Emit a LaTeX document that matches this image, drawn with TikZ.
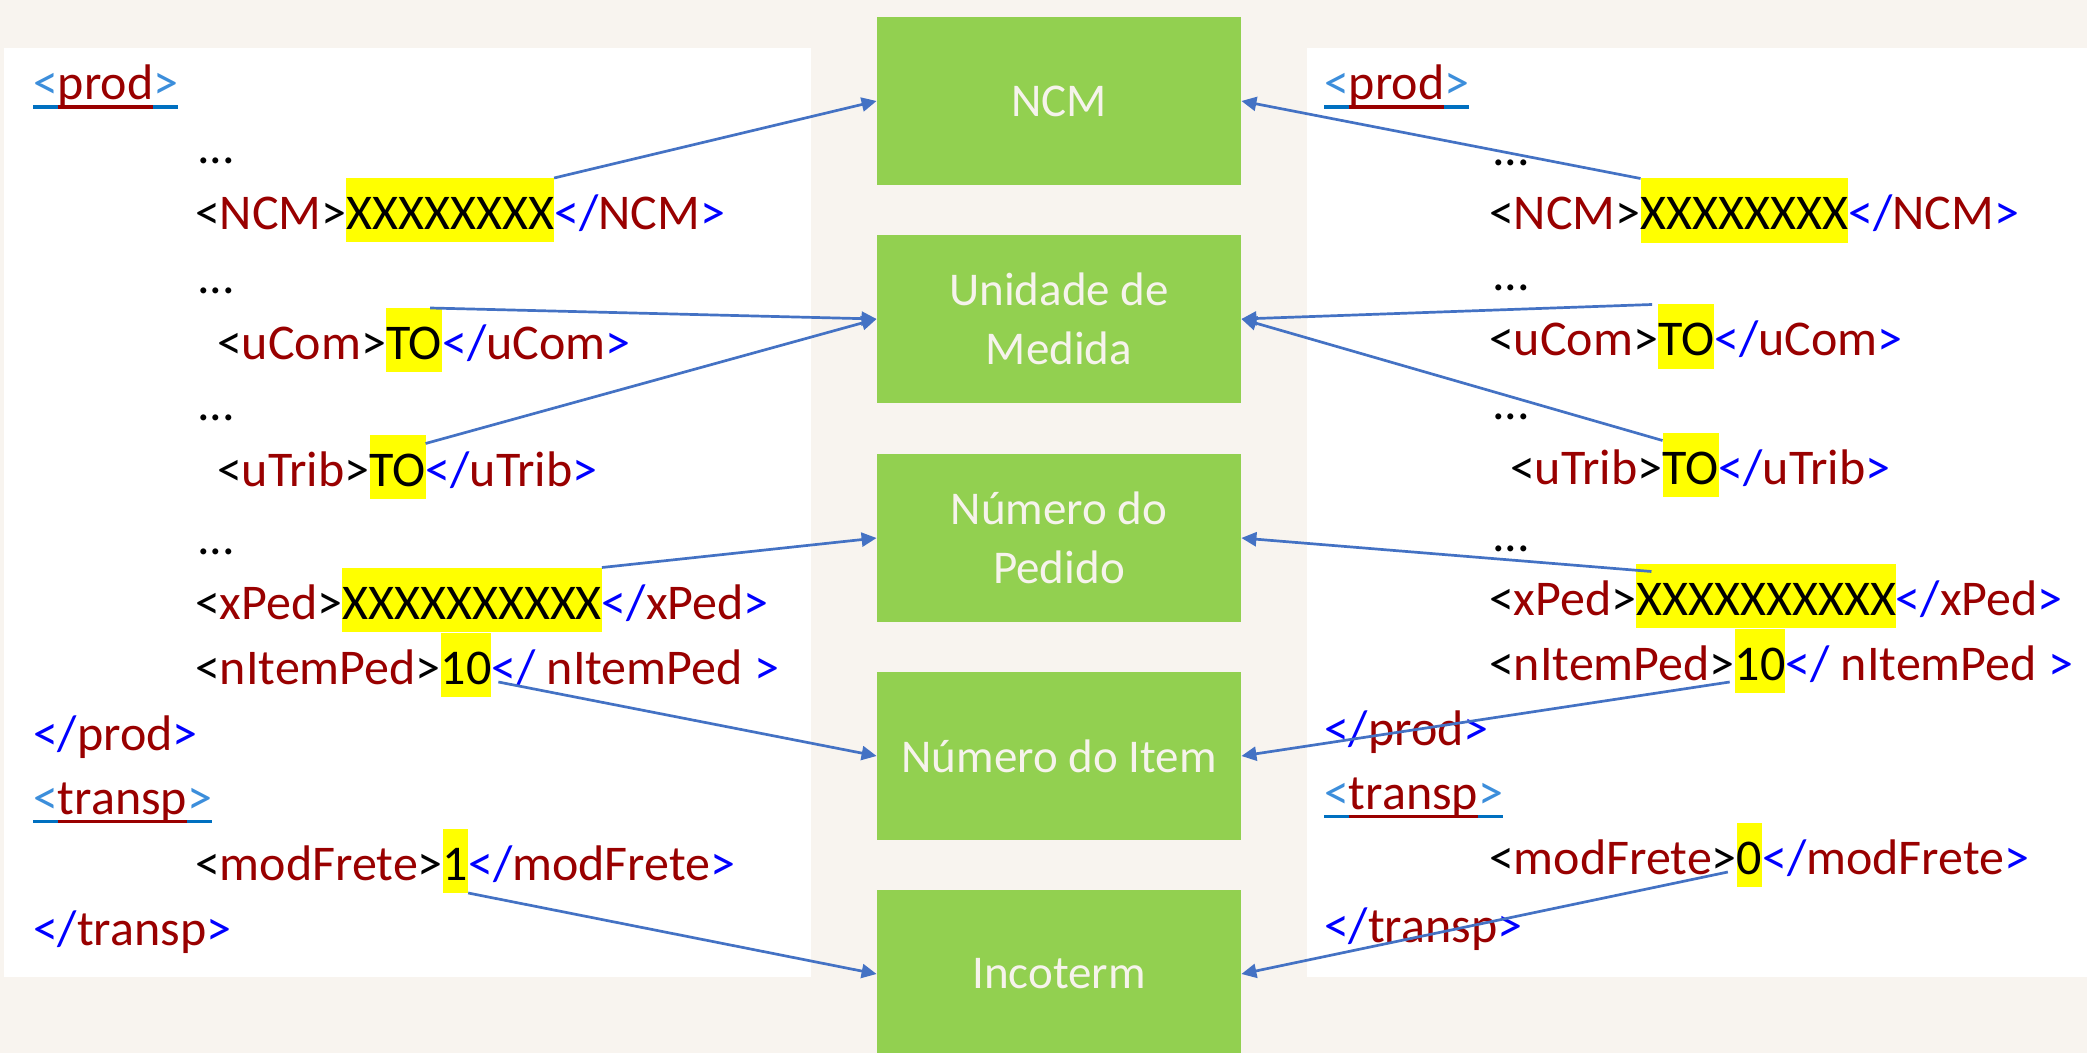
\documentclass[tikz,border=0pt]{standalone}
\usepackage{fontspec}
\usetikzlibrary{arrows.meta}
\newfontfamily\xmlfont{Carlito}
\newfontfamily\boxfont{Carlito}
\definecolor{bgc}{HTML}{F8F4EF}
\definecolor{dred}{HTML}{990000}
\definecolor{cblue}{HTML}{0000FF}
\definecolor{lblue}{HTML}{3C8EDB}
\definecolor{ulblue}{HTML}{0070C0}
\definecolor{hly}{HTML}{FFFF00}
\definecolor{boxgreen}{HTML}{92D050}
\definecolor{boxtext}{HTML}{F6F3EC}
\definecolor{arrblue}{HTML}{4472C4}
\newcommand\dr[1]{\textcolor{dred}{#1}}
\newcommand\bl[1]{\textcolor{cblue}{#1}}
\newsavebox\ulbox
\newcommand\ulpart[3]{\sbox\ulbox{\textcolor{#2}{#3}}\rlap{\textcolor{#1}{\rule[-4.6pt]{\wd\ulbox}{1.75pt}}}\usebox\ulbox}
\newcommand\ultag[1]{\ulpart{ulblue}{lblue}{<}\ulpart{dred}{dred}{#1}\ulpart{ulblue}{lblue}{>}}
\tikzset{
  txt/.style={anchor=base west, inner sep=0pt, outer sep=0pt, text height=25.75pt, text depth=6.5pt, font={\xmlfont\fontsize{25}{30}\selectfont}},
  val/.style={txt, fill=hly},
  box/.style={fill=boxgreen, minimum width=182pt, minimum height=84pt, inner sep=0pt, text=boxtext, align=center, font={\boxfont\fontsize{23.5}{29.5}\selectfont}},
  arr/.style={draw=arrblue, line width=1.35pt, -{Triangle[length=7.5pt,width=7pt]}}
}
\begin{document}
\begin{tikzpicture}[x=0.5pt,y=-0.5pt]
\useasboundingbox (0,0) rectangle (2087,1053);
\clip (0,0) rectangle (2087,1053);
\fill[bgc] (0,0) rectangle (2087,1053);
\fill[white] (4,48) rectangle (811,977);
\fill[white] (1307,48) rectangle (2087,977);

% central boxes
\node[box] (ncm) at (1059,101) {NCM};
\node[box] (unid) at (1059,319) {Unidade de\\Medida};
\node[box] (ped) at (1059,538) {Número do\\Pedido};
\node[box] (item) at (1059,756) {Número do Item};
\node[box] (inco) at (1059,974) {Incoterm};

% left XML
\node[txt] (Lprod) at (33,99.5) {\ultag{prod}};
\node[txt] (Ld1) at (197,164) {...};
\node[txt] (LncmA) at (195,229.5) {<\dr{NCM}>};
\node[val] (LncmV) at (LncmA.base east) {XXXXXXXX};
\node[txt] (LncmB) at (LncmV.base east) {\bl{</}\dr{NCM}\bl{>}};
\node[txt] (Ld2) at (197,294) {...};
\node[txt] (LucomA) at (217,359.5) {<\dr{uCom}>};
\node[val] (LucomV) at (LucomA.base east) {TO};
\node[txt] (LucomB) at (LucomV.base east) {\bl{</}\dr{uCom}\bl{>}};
\node[txt] (Ld3) at (197,421) {...};
\node[txt] (LutribA) at (217,486) {<\dr{uTrib}>};
\node[val] (LutribV) at (LutribA.base east) {TO};
\node[txt] (LutribB) at (LutribV.base east) {\bl{</}\dr{uTrib}\bl{>}};
\node[txt] (Ld4) at (197,554) {...};
\node[txt] (LxpedA) at (195,619) {<\dr{xPed}>};
\node[val] (LxpedV) at (LxpedA.base east) {XXXXXXXXXX};
\node[txt] (LxpedB) at (LxpedV.base east) {\bl{</}\dr{xPed}\bl{>}};
\node[txt] (LnitemA) at (195,684) {<\dr{nItemPed}>};
\node[val] (LnitemV) at (LnitemA.base east) {10};
\node[txt] (LnitemB) at (LnitemV.base east) {\bl{</} \dr{nItemPed} \bl{>}};
\node[txt] (Lprodc) at (33,750) {\bl{</}\dr{prod}\bl{>}};
\node[txt] (Ltransp) at (33,814) {\ultag{transp}};
\node[txt] (LmodA) at (195,880) {<\dr{modFrete}>};
\node[val] (LmodV) at (LmodA.base east) {1};
\node[txt] (LmodB) at (LmodV.base east) {\bl{</}\dr{modFrete}\bl{>}};
\node[txt] (Ltranspc) at (33,945) {\bl{</}\dr{transp}\bl{>}};

% right XML
\node[txt] (Rprod) at (1324,99.5) {\ultag{prod}};
\node[txt] (Rd1) at (1492,166) {...};
\node[txt] (RncmA) at (1489,230) {<\dr{NCM}>};
\node[val] (RncmV) at (RncmA.base east) {XXXXXXXX};
\node[txt] (RncmB) at (RncmV.base east) {\bl{</}\dr{NCM}\bl{>}};
\node[txt] (Rd2) at (1492,291) {...};
\node[txt] (RucomA) at (1489,356) {<\dr{uCom}>};
\node[val] (RucomV) at (RucomA.base east) {TO};
\node[txt] (RucomB) at (RucomV.base east) {\bl{</}\dr{uCom}\bl{>}};
\node[txt] (Rd3) at (1492,419.5) {...};
\node[txt] (RutribA) at (1510,484) {<\dr{uTrib}>};
\node[val] (RutribV) at (RutribA.base east) {TO};
\node[txt] (RutribB) at (RutribV.base east) {\bl{</}\dr{uTrib}\bl{>}};
\node[txt] (Rd4) at (1492,551) {...};
\node[txt] (RxpedA) at (1489,615) {<\dr{xPed}>};
\node[val] (RxpedV) at (RxpedA.base east) {XXXXXXXXXX};
\node[txt] (RxpedB) at (RxpedV.base east) {\bl{</}\dr{xPed}\bl{>}};
\node[txt] (RnitemA) at (1489,680) {<\dr{nItemPed}>};
\node[val] (RnitemV) at (RnitemA.base east) {10};
\node[txt] (RnitemB) at (RnitemV.base east) {\bl{</} \dr{nItemPed} \bl{>}};
\node[txt] (Rprodc) at (1324,745) {\bl{</}\dr{prod}\bl{>}};
\node[txt] (Rtransp) at (1324,809) {\ultag{transp}};
\node[txt] (RmodA) at (1489,874) {<\dr{modFrete}>};
\node[val] (RmodV) at (RmodA.base east) {0};
\node[txt] (RmodB) at (RmodV.base east) {\bl{</}\dr{modFrete}\bl{>}};
\node[txt] (Rtranspc) at (1324,942) {\bl{</}\dr{transp}\bl{>}};

% left connectors
\draw[arr] (LncmV.north east) -- (ncm.west);
\draw[arr] ([xshift=-6pt]LucomV.north east) -- (unid.west);
\draw[arr] ([yshift=-4.5pt]LutribV.north east) -- (unid.west);
\draw[arr] (LxpedV.north east) -- (ped.west);
\draw[arr] ([xshift=3.5pt,yshift=1pt]LnitemV.base east) -- (item.west);
\draw[arr] (LmodV.south east) -- (inco.west);

% right connectors
\draw[arr] (RncmV.north west) -- (ncm.east);
\draw[arr] ([xshift=-3pt]RucomV.north west) -- (unid.east);
\draw[arr] ([yshift=-4pt]RutribV.north west) -- (unid.east);
\draw[arr] ([xshift=7.5pt,yshift=-4pt]RxpedV.north west) -- (ped.east);
\draw[arr] ([xshift=-2.5pt,yshift=-1pt]RnitemV.base west) -- (item.east);
\draw[arr] ([xshift=-4.5pt,yshift=1pt]RmodV.base west) -- (inco.east);
\end{tikzpicture}
\end{document}
